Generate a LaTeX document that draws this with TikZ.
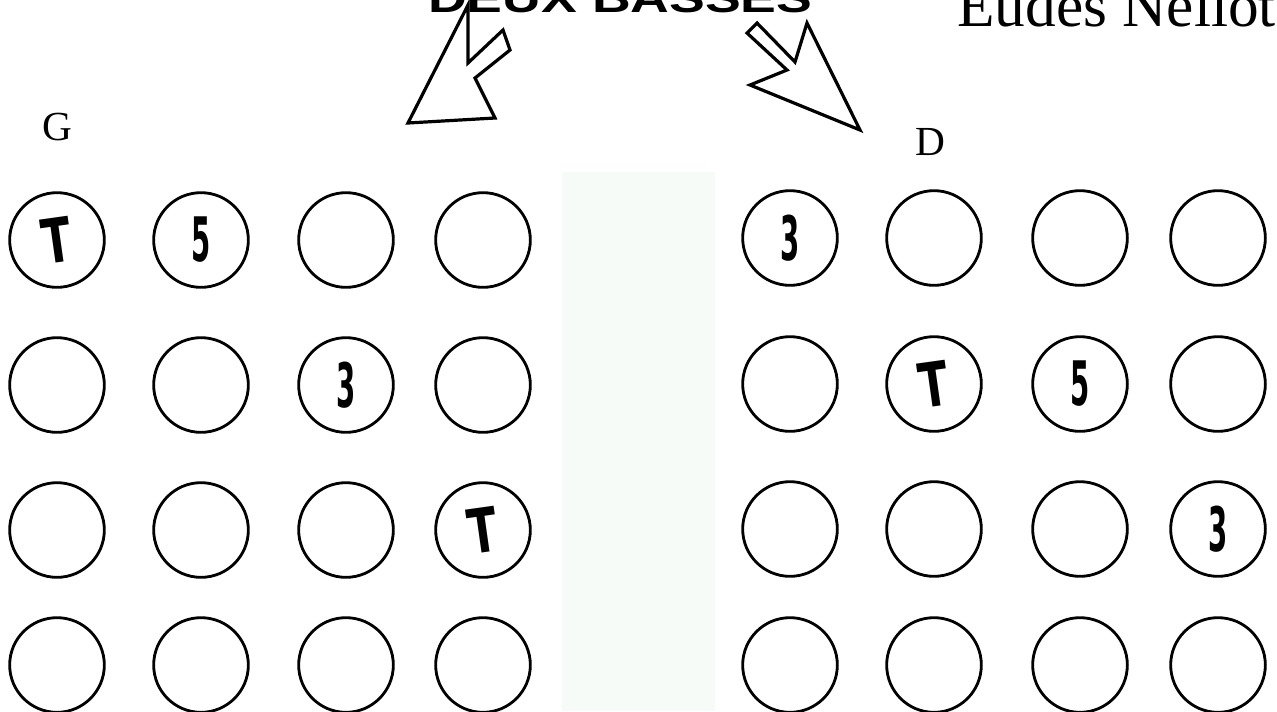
\documentclass[tikz,border=0pt]{standalone}
\usepackage{fontspec}
\setmainfont{Liberation Serif}
\newfontfamily\widefont[FakeStretch=1.34]{Liberation Sans}
\newfontfamily\symfont{DejaVu Sans}
\definecolor{stripcol}{RGB}{246,251,248}
\tikzset{
  key/.style={circle, draw=black, line width=2.1pt, minimum size=71pt, inner sep=0pt},
  bigarrow/.style={draw=black, line width=2.4pt, fill=white, line join=miter},
  lbl/.style={font=\fontsize{31}{31}\selectfont, inner sep=0pt, anchor=base},
  sym/.style={font=\symfont\bfseries\fontsize{46}{46}\selectfont, inner sep=0pt},
}
\newcommand{\Tsym}{\rotatebox{8}{\scalebox{0.7}[1]{T}}}
\newcommand{\Fsym}{\scalebox{0.45}[1]{5}}
\newcommand{\Hsym}{\scalebox{0.45}[1]{3}}
\begin{document}
\begin{tikzpicture}[x=0.75pt,y=-0.75pt]
\useasboundingbox (0,0) rectangle (1277,711);
\fill[stripcol] (562,172) rectangle (715,711);
% titles
\node[anchor=base west, font=\widefont\bfseries\fontsize{30}{30}\selectfont, inner sep=0pt] (title) at (428,12) {DEUX BASSES};
\node[anchor=base west, font=\fontsize{46}{46}\selectfont, inner sep=0pt] (author) at (957,26) {Eudes Nellot};
% side labels
\node[lbl] (G) at (57,140) {G};
\node[lbl] (D) at (930,155) {D};
% block arrows
\draw[bigarrow] (468,5) -- (468,63) -- (503,30) -- (510,50) -- (475,78) -- (495,118) -- (408,123) -- cycle;
\draw[bigarrow] (757,23) -- (795,62) -- (807,23) -- (860,130) -- (750,85) -- (787,70) -- (747,33) -- cycle;
% left keyboard
\foreach \c/\x in {1/57,2/201,3/346,4/483}
  \foreach \r/\y in {1/240,2/385,3/530,4/665}
    \node[key] (g\r\c) at (\x,\y) {};
% right keyboard
\foreach \c/\x in {1/790,2/934,3/1080,4/1218}
  \foreach \r/\y in {1/238,2/384,3/529,4/665}
    \node[key] (d\r\c) at (\x,\y) {};
% symbols
\node[sym] (sg11) at (g11.center) {\Tsym};
\node[sym] (sg12) at (g12.center) {\Fsym};
\node[sym] (sg23) at (g23.center) {\Hsym};
\node[sym] (sg34) at (g34.center) {\Tsym};
\node[sym] (sd11) at (d11.center) {\Hsym};
\node[sym] (sd22) at (d22.center) {\Tsym};
\node[sym] (sd23) at (d23.center) {\Fsym};
\node[sym] (sd34) at (d34.center) {\Hsym};
\end{tikzpicture}
\end{document}
